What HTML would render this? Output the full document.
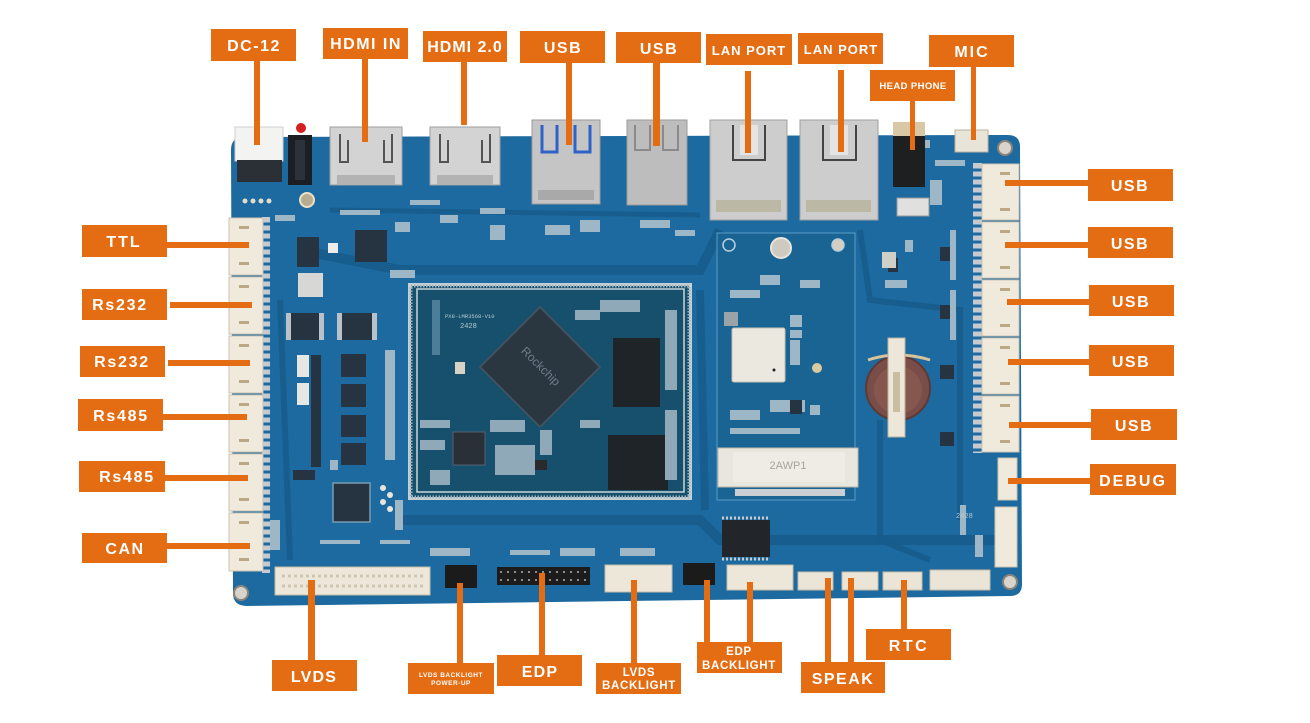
<!DOCTYPE html>
<html><head><meta charset="utf-8"><style>
html,body{margin:0;padding:0;background:#fff;}
svg{display:block}
.lb{font-family:"Liberation Sans",Arial,sans-serif;font-weight:bold;fill:#fff;text-anchor:middle;}
</style></head><body>
<svg width="1310" height="723" viewBox="0 0 1310 723" xmlns="http://www.w3.org/2000/svg">
<rect width="1310" height="723" fill="#ffffff"/>
<!-- board -->
<path d="M244,137 L1008,135 Q1020,135 1020,147 L1022,584 Q1022,596 1010,596 L247,606 Q233,606 233,593 L231,150 Q231,137 244,137 Z" fill="#1c6aa0"/>
<!-- darker trace regions -->
<g fill="none" stroke="#175b8b" stroke-opacity="0.8">
<path d="M300,250 L400,270 L700,270 L720,230" stroke-width="10"/>
<path d="M395,520 L700,520 L720,540 L1000,540" stroke-width="10"/>
<path d="M700,290 L705,510" stroke-width="8"/>
<path d="M860,230 L870,300 L960,310 L960,520" stroke-width="6"/>
<path d="M280,300 L290,560" stroke-width="6"/>
<path d="M330,210 L700,215" stroke-width="5"/>
<path d="M880,420 L880,540 L930,560" stroke-width="6"/>
</g>
<!-- holes -->
<circle cx="241" cy="593" r="7" fill="#d8d4cc" stroke="#8a8478" stroke-width="2"/>
<circle cx="1005" cy="148" r="7" fill="#d8d4cc" stroke="#8a8478" stroke-width="2"/>
<circle cx="1010" cy="582" r="7" fill="#d8d4cc" stroke="#8a8478" stroke-width="2"/>
<circle cx="307" cy="200" r="7" fill="#b8ad8f" stroke="#e8e0c8" stroke-width="2"/>
<g fill="#e2dccb"><circle cx="245" cy="201" r="2.5"/><circle cx="253" cy="201" r="2.5"/><circle cx="261" cy="201" r="2.5"/><circle cx="269" cy="201" r="2.5"/></g>

<!-- core module -->
<rect x="408" y="283" width="284" height="217" fill="#c4d0d4"/>
<rect x="411" y="286" width="278" height="211" fill="#17506c"/>
<rect x="411" y="286" width="278" height="211" fill="none" stroke="#9fb6c0" stroke-width="3" stroke-dasharray="1.5 1.5"/>
<rect x="417" y="289" width="267" height="203" fill="none" stroke="#c9d6da" stroke-width="1.5"/>
<polygon points="540,307 600,367 540,427 480,367" fill="#2a3640" stroke="#405260" stroke-width="2"/>
<text x="540" y="370" font-family="Liberation Sans,sans-serif" font-size="12" fill="#6d7e88" text-anchor="middle" transform="rotate(45 540 367)">Rockchip</text>
<rect x="613" y="338" width="47" height="69" fill="#1f2429"/>
<rect x="608" y="435" width="60" height="55" fill="#1f2429"/>
<rect x="453" y="432" width="32" height="33" fill="#2a3037" stroke="#516270"/>
<rect x="432" y="300" width="8" height="55" fill="#4c7e9a"/>
<text x="445" y="318" font-family="Liberation Mono,monospace" font-size="5.5" fill="#b8c9d2">PX8-LMR3568-V10</text>
<text x="460" y="328" font-family="Liberation Mono,monospace" font-size="7" fill="#b8c9d2">2428</text>
<rect x="455" y="362" width="10" height="12" fill="#d6d2c6"/>
<g fill="#8fa9b8">
<rect x="420" y="420" width="30" height="8"/><rect x="420" y="440" width="25" height="10"/><rect x="490" y="420" width="35" height="12"/><rect x="495" y="445" width="40" height="30"/><rect x="430" y="470" width="20" height="15"/><rect x="600" y="300" width="40" height="12"/><rect x="575" y="310" width="25" height="10"/><rect x="665" y="310" width="12" height="80"/><rect x="665" y="410" width="12" height="70"/><rect x="580" y="420" width="20" height="8"/><rect x="540" y="430" width="12" height="25"/>
</g>
<rect x="535" y="460" width="12" height="10" fill="#2a2a2a"/>

<!-- left side chips -->
<g fill="#263341">
<rect x="355" y="230" width="32" height="32"/>
<rect x="333" y="483" width="37" height="39" stroke="#7a9bb0" stroke-width="1.5"/>
<rect x="297" y="237" width="22" height="30"/>
<rect x="291" y="313" width="28" height="27"/>
<rect x="342" y="313" width="30" height="27"/>
<rect x="341" y="354" width="25" height="23"/>
<rect x="341" y="384" width="25" height="23"/>
<rect x="341" y="415" width="25" height="22"/>
<rect x="341" y="443" width="25" height="22"/>
<rect x="311" y="355" width="10" height="112"/>
<rect x="293" y="470" width="22" height="10"/>
</g>
<g fill="#b9c2c8">
<rect x="286" y="313" width="5" height="27"/><rect x="319" y="313" width="5" height="27"/><rect x="337" y="313" width="5" height="27"/><rect x="372" y="313" width="5" height="27"/>
<rect x="298" y="273" width="25" height="24" fill="#d7d7d5"/>
<rect x="297" y="355" width="12" height="22" fill="#e6e6e3"/>
<rect x="297" y="383" width="12" height="22" fill="#e6e6e3"/>
<rect x="328" y="243" width="10" height="10" fill="#ececea"/>
</g>
<g fill="#9db7c6">
<rect x="275" y="215" width="20" height="6"/><rect x="340" y="210" width="40" height="5"/><rect x="390" y="270" width="25" height="8"/><rect x="395" y="222" width="15" height="10"/><rect x="410" y="200" width="30" height="5"/><rect x="440" y="215" width="18" height="8"/><rect x="480" y="208" width="25" height="6"/><rect x="490" y="225" width="15" height="15"/><rect x="320" y="540" width="40" height="4"/><rect x="380" y="540" width="30" height="4"/><rect x="395" y="500" width="8" height="30"/><rect x="270" y="520" width="10" height="30"/><rect x="330" y="460" width="8" height="10"/><rect x="385" y="350" width="10" height="110"/>
<rect x="545" y="225" width="25" height="10"/><rect x="580" y="220" width="20" height="12"/><rect x="640" y="220" width="30" height="8"/><rect x="675" y="230" width="20" height="6"/><rect x="430" y="548" width="40" height="8"/><rect x="510" y="550" width="40" height="5"/><rect x="560" y="548" width="35" height="8"/><rect x="620" y="548" width="35" height="8"/>
</g>
<g fill="#e8e5dc"><circle cx="383" cy="488" r="3"/><circle cx="390" cy="495" r="3"/><circle cx="383" cy="502" r="3"/><circle cx="390" cy="509" r="3"/></g>

<!-- left white connectors -->
<g>
<rect x="262" y="217" width="8" height="356" fill="#c5cbd0"/>
<g stroke="#1c6aa0" stroke-width="3"><line x1="262" y1="224" x2="270" y2="224"/><line x1="262" y1="232" x2="270" y2="232"/><line x1="262" y1="240" x2="270" y2="240"/><line x1="262" y1="248" x2="270" y2="248"/><line x1="262" y1="256" x2="270" y2="256"/><line x1="262" y1="264" x2="270" y2="264"/><line x1="262" y1="272" x2="270" y2="272"/><line x1="262" y1="280" x2="270" y2="280"/><line x1="262" y1="288" x2="270" y2="288"/><line x1="262" y1="296" x2="270" y2="296"/><line x1="262" y1="304" x2="270" y2="304"/><line x1="262" y1="312" x2="270" y2="312"/><line x1="262" y1="320" x2="270" y2="320"/><line x1="262" y1="328" x2="270" y2="328"/><line x1="262" y1="336" x2="270" y2="336"/><line x1="262" y1="344" x2="270" y2="344"/><line x1="262" y1="352" x2="270" y2="352"/><line x1="262" y1="360" x2="270" y2="360"/><line x1="262" y1="368" x2="270" y2="368"/><line x1="262" y1="376" x2="270" y2="376"/><line x1="262" y1="384" x2="270" y2="384"/><line x1="262" y1="392" x2="270" y2="392"/><line x1="262" y1="400" x2="270" y2="400"/><line x1="262" y1="408" x2="270" y2="408"/><line x1="262" y1="416" x2="270" y2="416"/><line x1="262" y1="424" x2="270" y2="424"/><line x1="262" y1="432" x2="270" y2="432"/><line x1="262" y1="440" x2="270" y2="440"/><line x1="262" y1="448" x2="270" y2="448"/><line x1="262" y1="456" x2="270" y2="456"/><line x1="262" y1="464" x2="270" y2="464"/><line x1="262" y1="472" x2="270" y2="472"/><line x1="262" y1="480" x2="270" y2="480"/><line x1="262" y1="488" x2="270" y2="488"/><line x1="262" y1="496" x2="270" y2="496"/><line x1="262" y1="504" x2="270" y2="504"/><line x1="262" y1="512" x2="270" y2="512"/><line x1="262" y1="520" x2="270" y2="520"/><line x1="262" y1="528" x2="270" y2="528"/><line x1="262" y1="536" x2="270" y2="536"/><line x1="262" y1="544" x2="270" y2="544"/><line x1="262" y1="552" x2="270" y2="552"/><line x1="262" y1="560" x2="270" y2="560"/><line x1="262" y1="568" x2="270" y2="568"/></g>
<g fill="#f0eadd" stroke="#cbc2ae" stroke-width="1">
<rect x="229" y="218" width="34" height="57"/><rect x="229" y="277" width="34" height="57"/><rect x="229" y="336" width="34" height="57"/><rect x="229" y="395" width="34" height="57"/><rect x="229" y="454" width="34" height="57"/><rect x="229" y="513" width="34" height="58"/>
</g>
<g fill="#bba985">
<rect x="239" y="226" width="10" height="3"/><rect x="239" y="262" width="10" height="3"/><rect x="239" y="285" width="10" height="3"/><rect x="239" y="321" width="10" height="3"/><rect x="239" y="344" width="10" height="3"/><rect x="239" y="380" width="10" height="3"/><rect x="239" y="403" width="10" height="3"/><rect x="239" y="439" width="10" height="3"/><rect x="239" y="462" width="10" height="3"/><rect x="239" y="498" width="10" height="3"/><rect x="239" y="521" width="10" height="3"/><rect x="239" y="558" width="10" height="3"/>
</g>
</g>

<!-- right white connectors -->
<g>
<rect x="973" y="163" width="9" height="290" fill="#c5cbd0"/>
<g stroke="#1c6aa0" stroke-width="3"><line x1="973" y1="170" x2="982" y2="170"/><line x1="973" y1="178" x2="982" y2="178"/><line x1="973" y1="186" x2="982" y2="186"/><line x1="973" y1="194" x2="982" y2="194"/><line x1="973" y1="202" x2="982" y2="202"/><line x1="973" y1="210" x2="982" y2="210"/><line x1="973" y1="218" x2="982" y2="218"/><line x1="973" y1="226" x2="982" y2="226"/><line x1="973" y1="234" x2="982" y2="234"/><line x1="973" y1="242" x2="982" y2="242"/><line x1="973" y1="250" x2="982" y2="250"/><line x1="973" y1="258" x2="982" y2="258"/><line x1="973" y1="266" x2="982" y2="266"/><line x1="973" y1="274" x2="982" y2="274"/><line x1="973" y1="282" x2="982" y2="282"/><line x1="973" y1="290" x2="982" y2="290"/><line x1="973" y1="298" x2="982" y2="298"/><line x1="973" y1="306" x2="982" y2="306"/><line x1="973" y1="314" x2="982" y2="314"/><line x1="973" y1="322" x2="982" y2="322"/><line x1="973" y1="330" x2="982" y2="330"/><line x1="973" y1="338" x2="982" y2="338"/><line x1="973" y1="346" x2="982" y2="346"/><line x1="973" y1="354" x2="982" y2="354"/><line x1="973" y1="362" x2="982" y2="362"/><line x1="973" y1="370" x2="982" y2="370"/><line x1="973" y1="378" x2="982" y2="378"/><line x1="973" y1="386" x2="982" y2="386"/><line x1="973" y1="394" x2="982" y2="394"/><line x1="973" y1="402" x2="982" y2="402"/><line x1="973" y1="410" x2="982" y2="410"/><line x1="973" y1="418" x2="982" y2="418"/><line x1="973" y1="426" x2="982" y2="426"/><line x1="973" y1="434" x2="982" y2="434"/><line x1="973" y1="442" x2="982" y2="442"/><line x1="973" y1="450" x2="982" y2="450"/></g>
<g fill="#f0eadd" stroke="#cbc2ae" stroke-width="1">
<rect x="982" y="164" width="37" height="56"/><rect x="982" y="222" width="37" height="56"/><rect x="982" y="280" width="37" height="56"/><rect x="982" y="338" width="37" height="56"/><rect x="982" y="396" width="37" height="56"/>
<rect x="998" y="458" width="19" height="42"/>
<rect x="995" y="507" width="22" height="60"/>
</g>
<g fill="#bba985">
<rect x="1000" y="172" width="10" height="3"/><rect x="1000" y="208" width="10" height="3"/><rect x="1000" y="230" width="10" height="3"/><rect x="1000" y="266" width="10" height="3"/><rect x="1000" y="288" width="10" height="3"/><rect x="1000" y="324" width="10" height="3"/><rect x="1000" y="346" width="10" height="3"/><rect x="1000" y="382" width="10" height="3"/><rect x="1000" y="404" width="10" height="3"/><rect x="1000" y="440" width="10" height="3"/>
</g>
</g>

<!-- right area parts -->
<g fill="#263341">
<rect x="940" y="247" width="14" height="14"/><rect x="940" y="305" width="14" height="14"/><rect x="940" y="365" width="14" height="14"/><rect x="940" y="432" width="14" height="14"/><rect x="888" y="258" width="10" height="14"/>
</g>
<rect x="882" y="252" width="14" height="16" fill="#cfcfca"/>
<g fill="#9db7c6"><rect x="905" y="240" width="8" height="12"/><rect x="885" y="280" width="22" height="8"/><rect x="950" y="230" width="6" height="50"/><rect x="950" y="290" width="6" height="50"/><rect x="960" y="505" width="6" height="30"/><rect x="975" y="535" width="8" height="22"/><rect x="910" y="140" width="20" height="8"/><rect x="935" y="160" width="30" height="6"/><rect x="930" y="180" width="12" height="25"/></g>
<text x="956" y="518" font-family="Liberation Mono,monospace" font-size="7" fill="#b8c9d2">2428</text>

<!-- mini pcie area -->
<rect x="717" y="233" width="138" height="267" fill="#1a6494" stroke="#5a9cc6" stroke-width="1"/>
<circle cx="729" cy="245" r="6" fill="none" stroke="#b9d0de" stroke-width="1.5"/>
<circle cx="838" cy="245" r="6" fill="#d5cfc2" stroke="#b9d0de" stroke-width="1.5"/>
<circle cx="781" cy="248" r="10" fill="#cfcac0" stroke="#e8e4dc" stroke-width="2"/>
<rect x="732" y="328" width="53" height="54" rx="2" fill="#ebe8e0" stroke="#c8c1b0"/>
<circle cx="774" cy="370" r="1.5" fill="#222"/>
<rect x="724" y="312" width="14" height="14" fill="#9aa3a8"/>
<circle cx="817" cy="368" r="5" fill="#d8c9a0"/>
<g fill="#9db7c6"><rect x="790" y="315" width="12" height="12"/><rect x="790" y="330" width="12" height="8"/><rect x="760" y="275" width="20" height="10"/><rect x="800" y="280" width="20" height="8"/><rect x="730" y="290" width="30" height="8"/><rect x="790" y="340" width="10" height="25"/><rect x="730" y="410" width="30" height="10"/><rect x="770" y="400" width="35" height="12"/><rect x="810" y="405" width="10" height="10"/><rect x="730" y="428" width="70" height="6"/></g>
<rect x="790" y="400" width="12" height="14" fill="#263341"/>
<rect x="718" y="448" width="140" height="39" fill="#e9e6df" stroke="#bcb5a5"/>
<rect x="733" y="452" width="112" height="30" fill="#efece6"/>
<text x="788" y="469" font-family="Liberation Sans,sans-serif" font-size="11" fill="#a8a49b" text-anchor="middle">2AWP1</text>
<rect x="735" y="489" width="110" height="7" fill="#c9cfd3"/>

<!-- battery holder -->
<circle cx="898" cy="388" r="32" fill="#7b4d49" stroke="#5e3935" stroke-width="2"/>
<circle cx="898" cy="390" r="24" fill="#86574f"/>
<path d="M868,360 Q898,350 930,360" stroke="#d9c39b" stroke-width="3" fill="none"/>
<rect x="888" y="338" width="17" height="99" fill="#ece7d9" stroke="#bdb29b"/>
<rect x="893" y="372" width="7" height="40" fill="#c9bea2"/>

<!-- top connectors -->
<rect x="235" y="127" width="48" height="34" fill="#f3f3f2" stroke="#cfcfcf"/>
<rect x="237" y="160" width="45" height="22" fill="#2b3036"/>
<rect x="288" y="135" width="24" height="50" fill="#1b1f24"/>
<rect x="295" y="140" width="10" height="40" fill="#2c323a"/>
<circle cx="301" cy="128" r="5" fill="#d42020"/>

<g>
<rect x="330" y="127" width="72" height="58" fill="#d3d3d3" stroke="#9e9e9e"/>
<path d="M340,134 L340,162 L348,162 L348,140" fill="none" stroke="#555" stroke-width="2"/>
<path d="M392,134 L392,162 L384,162 L384,140" fill="none" stroke="#555" stroke-width="2"/>
<rect x="337" y="175" width="58" height="10" fill="#b3b3b3"/>
<rect x="430" y="127" width="70" height="58" fill="#d3d3d3" stroke="#9e9e9e"/>
<path d="M440,134 L440,162 L448,162 L448,140" fill="none" stroke="#555" stroke-width="2"/>
<path d="M490,134 L490,162 L482,162 L482,140" fill="none" stroke="#555" stroke-width="2"/>
<rect x="437" y="175" width="56" height="10" fill="#b3b3b3"/>
</g>
<g>
<rect x="532" y="120" width="68" height="84" fill="#c5c5c5" stroke="#9a9a9a"/>
<path d="M542,125 L542,152 L557,152 L557,125" fill="none" stroke="#2f62c8" stroke-width="3"/>
<path d="M575,125 L575,152 L590,152 L590,125" fill="none" stroke="#2f62c8" stroke-width="3"/>
<rect x="538" y="190" width="56" height="10" fill="#a9a9a9"/>
<rect x="627" y="120" width="60" height="85" fill="#bdbdbd" stroke="#9a9a9a"/>
<path d="M635,125 L635,150 L650,150 L650,125" fill="none" stroke="#8a8a8a" stroke-width="2"/>
<path d="M663,125 L663,150 L678,150 L678,125" fill="none" stroke="#8a8a8a" stroke-width="2"/>
</g>
<g>
<rect x="710" y="120" width="77" height="100" fill="#cdcdcd" stroke="#a0a0a0"/>
<path d="M733,125 L733,160 L765,160 L765,125" fill="none" stroke="#444" stroke-width="2"/>
<rect x="740" y="125" width="18" height="30" fill="#e4e4e4"/>
<rect x="716" y="200" width="65" height="12" fill="#bcb8a6"/>
<rect x="800" y="120" width="78" height="100" fill="#cdcdcd" stroke="#a0a0a0"/>
<path d="M823,125 L823,160 L856,160 L856,125" fill="none" stroke="#444" stroke-width="2"/>
<rect x="830" y="125" width="18" height="30" fill="#e4e4e4"/>
<rect x="806" y="200" width="65" height="12" fill="#bcb8a6"/>
</g>
<rect x="893" y="122" width="32" height="65" fill="#1e1f21"/>
<rect x="893" y="122" width="32" height="14" fill="#d8c8a6"/>
<rect x="897" y="198" width="32" height="18" fill="#e0e0de" stroke="#999"/>
<rect x="955" y="130" width="33" height="22" fill="#e9e4d8" stroke="#bcb3a0"/>

<!-- bottom connectors -->
<rect x="275" y="567" width="155" height="28" fill="#ede7d9" stroke="#c5bca9"/>
<line x1="282" y1="576" x2="424" y2="576" stroke="#cfc6b2" stroke-width="3" stroke-dasharray="3 3"/>
<line x1="282" y1="586" x2="424" y2="586" stroke="#cfc6b2" stroke-width="3" stroke-dasharray="3 3"/>
<rect x="445" y="565" width="32" height="23" fill="#1b1b1b"/>
<rect x="497" y="567" width="93" height="18" fill="#1c1c1c"/>
<line x1="500" y1="572" x2="588" y2="572" stroke="#8c8c8c" stroke-width="2" stroke-dasharray="2 5"/>
<line x1="500" y1="580" x2="588" y2="580" stroke="#8c8c8c" stroke-width="2" stroke-dasharray="2 5"/>
<rect x="605" y="565" width="67" height="27" fill="#ede7d9" stroke="#c5bca9"/>
<rect x="683" y="563" width="32" height="22" fill="#1b1b1b"/>
<rect x="727" y="565" width="66" height="25" fill="#ede7d9" stroke="#c5bca9"/>
<rect x="722" y="520" width="48" height="37" fill="#22262b"/>
<line x1="722" y1="518" x2="770" y2="518" stroke="#ccc" stroke-width="3" stroke-dasharray="2 2"/>
<line x1="722" y1="559" x2="770" y2="559" stroke="#ccc" stroke-width="3" stroke-dasharray="2 2"/>
<rect x="798" y="572" width="35" height="18" fill="#ebe5d7" stroke="#c5bca9"/>
<rect x="842" y="572" width="36" height="18" fill="#ebe5d7" stroke="#c5bca9"/>
<rect x="883" y="572" width="39" height="18" fill="#ebe5d7" stroke="#c5bca9"/>
<rect x="930" y="570" width="60" height="20" fill="#ebe5d7" stroke="#c5bca9"/>

<!-- ORANGE LABELS -->
<g fill="#e46d14">
<rect x="211" y="29" width="85" height="32"/><rect x="254" y="61" width="6" height="84"/>
<rect x="323" y="28" width="85" height="31"/><rect x="362" y="59" width="6" height="83"/>
<rect x="423" y="31" width="84" height="31"/><rect x="461" y="62" width="6" height="63"/>
<rect x="520" y="31" width="85" height="32"/><rect x="566" y="63" width="6" height="82"/>
<rect x="616" y="32" width="85" height="31"/><rect x="653" y="63" width="7" height="83"/>
<rect x="706" y="34" width="86" height="31"/><rect x="745" y="71" width="6" height="82"/>
<rect x="798" y="33" width="85" height="31"/><rect x="838" y="70" width="6" height="82"/>
<rect x="870" y="70" width="85" height="31"/><rect x="910" y="101" width="5" height="49"/>
<rect x="929" y="35" width="85" height="32"/><rect x="971" y="67" width="5" height="73"/>
<rect x="82" y="225" width="85" height="32"/><rect x="167" y="242" width="82" height="6"/>
<rect x="82" y="289" width="85" height="31"/><rect x="170" y="302" width="82" height="6"/>
<rect x="80" y="346" width="85" height="31"/><rect x="168" y="360" width="82" height="6"/>
<rect x="78" y="399" width="85" height="32"/><rect x="163" y="414" width="84" height="6"/>
<rect x="79" y="461" width="86" height="31"/><rect x="165" y="475" width="83" height="6"/>
<rect x="82" y="533" width="85" height="30"/><rect x="167" y="543" width="83" height="6"/>
<rect x="1088" y="169" width="85" height="32"/><rect x="1005" y="180" width="83" height="6"/>
<rect x="1088" y="227" width="85" height="31"/><rect x="1005" y="242" width="83" height="6"/>
<rect x="1089" y="285" width="85" height="31"/><rect x="1007" y="299" width="82" height="6"/>
<rect x="1089" y="345" width="85" height="31"/><rect x="1008" y="359" width="81" height="6"/>
<rect x="1091" y="409" width="86" height="31"/><rect x="1009" y="422" width="82" height="6"/>
<rect x="1090" y="464" width="86" height="31"/><rect x="1008" y="478" width="82" height="6"/>
<rect x="272" y="660" width="85" height="31"/><rect x="308" y="580" width="7" height="80"/>
<rect x="408" y="663" width="86" height="31"/><rect x="457" y="583" width="6" height="80"/>
<rect x="497" y="655" width="85" height="31"/><rect x="539" y="573" width="6" height="82"/>
<rect x="596" y="663" width="85" height="31"/><rect x="631" y="580" width="6" height="83"/>
<rect x="697" y="642" width="85" height="31"/><rect x="704" y="580" width="6" height="62"/><rect x="747" y="582" width="6" height="60"/>
<rect x="801" y="662" width="84" height="31"/><rect x="825" y="578" width="6" height="84"/><rect x="848" y="578" width="6" height="84"/>
<rect x="866" y="629" width="85" height="31"/><rect x="901" y="580" width="6" height="49"/>
</g>

<g class="lb" font-size="16">
<text x="254" y="51" letter-spacing="1.5">DC-12</text>
<text x="366" y="49" letter-spacing="1.5">HDMI IN</text>
<text x="465" y="52" letter-spacing="1">HDMI 2.0</text>
<text x="563" y="53" letter-spacing="1.5">USB</text>
<text x="659" y="54" letter-spacing="1.5">USB</text>
<text x="749" y="55" font-size="13" letter-spacing="1">LAN PORT</text>
<text x="841" y="54" font-size="13" letter-spacing="1">LAN PORT</text>
<text x="913" y="89" font-size="9.5" letter-spacing="0.4">HEAD PHONE</text>
<text x="972" y="57" letter-spacing="2">MIC</text>

<text x="124" y="247" letter-spacing="2">TTL</text>
<text x="120" y="310" letter-spacing="1.7">Rs232</text>
<text x="122" y="367" letter-spacing="1.7">Rs232</text>
<text x="121" y="421" letter-spacing="1.7">Rs485</text>
<text x="127" y="482" letter-spacing="1.7">Rs485</text>
<text x="125" y="554" letter-spacing="1.5">CAN</text>

<text x="1130" y="191" letter-spacing="1.5">USB</text>
<text x="1130" y="249" letter-spacing="1.5">USB</text>
<text x="1131" y="307" letter-spacing="1.5">USB</text>
<text x="1131" y="367" letter-spacing="1.5">USB</text>
<text x="1134" y="431" letter-spacing="1.5">USB</text>
<text x="1133" y="486" letter-spacing="2">DEBUG</text>

<text x="314" y="682" letter-spacing="1.2">LVDS</text>
<text x="451" y="677" font-size="6.5" letter-spacing="0.5">LVDS BACKLIGHT</text>
<text x="451" y="685" font-size="6.5" letter-spacing="0.5">POWER-UP</text>
<text x="540" y="677" letter-spacing="1.2">EDP</text>
<text x="639" y="676" font-size="11.5" letter-spacing="0.7">LVDS</text>
<text x="639" y="689" font-size="11.5" letter-spacing="0.7">BACKLIGHT</text>
<text x="739" y="655" font-size="11.5" letter-spacing="0.7">EDP</text>
<text x="739" y="669" font-size="11.5" letter-spacing="0.7">BACKLIGHT</text>
<text x="843" y="684" letter-spacing="1.5">SPEAK</text>
<text x="909" y="651" letter-spacing="2.5">RTC</text>
</g>
</svg>
</body></html>
